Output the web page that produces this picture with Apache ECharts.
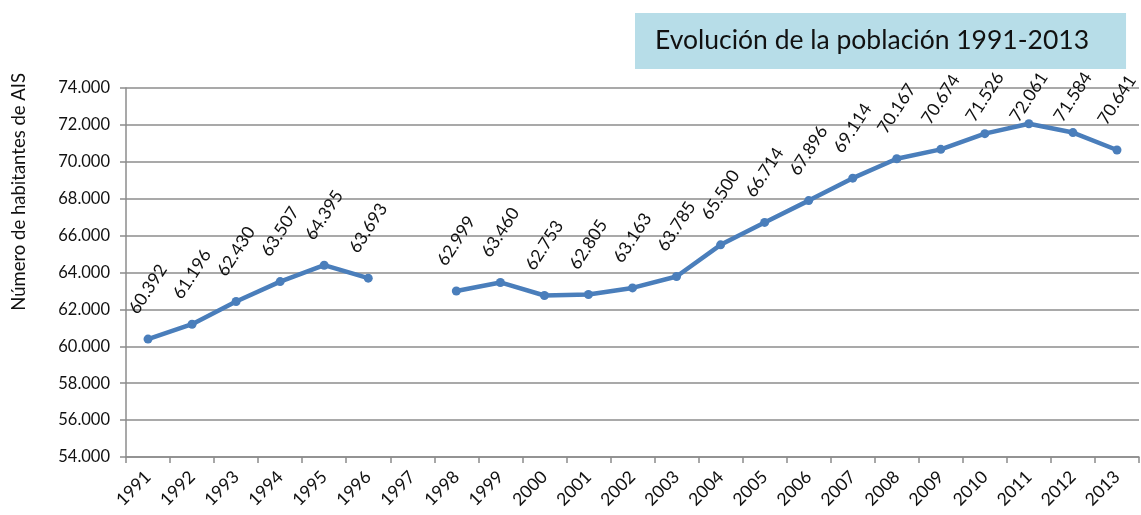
<!DOCTYPE html>
<html>
<head>
<meta charset="utf-8">
<script src="https://cdn.jsdelivr.net/npm/echarts@6/dist/echarts.min.js"></script>
<style>
  html, body { margin: 0; padding: 0; background: #fff; }
  #chart { width: 1141px; height: 515px; }
</style>
</head>
<body>
<div id="chart"></div>
<script>
const years = ['1991', '1992', '1993', '1994', '1995', '1996', '1997', '1998', '1999', '2000', '2001', '2002',
    '2003', '2004', '2005', '2006', '2007', '2008', '2009', '2010', '2011', '2012', '2013'];
// 1997 has no value: the line breaks there
const population = [60392, 61196, 62430, 63507, 64395, 63693, null, 62999, 63460, 62753, 62805, 63163,
    63785, 65500, 66714, 67896, 69114, 70167, 70674, 71526, 72061, 71584, 70641];

const titleText = 'Evolución de la población 1991-2013';
const yAxisName = 'Número de habitantes de AIS';

function fmt(v) {
    return String(v).replace(/\B(?=(\d{3})+(?!\d))/g, '.');
}

const elem = document.getElementById('chart');
const myChart = echarts.init(elem, null, {});

const font = 'Lato, "Open Sans", sans-serif';

myChart.setOption({
    animation: false,
    textStyle: { fontFamily: font },
    title: {
        text: titleText,
        left: 635,
        top: 13,
        padding: [14, 37, 15, 20],
        backgroundColor: '#b7dde8',
        textStyle: { fontSize: 26.5, fontWeight: 'normal', color: '#111', fontFamily: font }
    },
    graphic: [{
        type: 'text',
        left: 10,
        top: 73,
        rotation: Math.PI / 2,
        style: {
            text: yAxisName,
            fontSize: 18.5,
            fontFamily: font,
            fill: '#111'
        }
    }],
    grid: { left: 126, right: 2, top: 88, bottom: 58, containLabel: false, outerBoundsMode: 'none' },
    xAxis: {
        type: 'category',
        data: years,
        boundaryGap: true,
        axisLine: { lineStyle: { color: '#8c8c8c', width: 1.5 } },
        axisTick: { show: true, length: 6, lineStyle: { color: '#8c8c8c', width: 1.5 } },
        axisLabel: { rotate: 45, fontSize: 17.5, fontFamily: font, color: '#111', margin: 17, interval: 0 }
    },
    yAxis: {
        type: 'value',
        min: 54000,
        max: 74000,
        interval: 2000,
        axisLine: { show: true, lineStyle: { color: '#8c8c8c', width: 1.5 } },
        axisTick: { show: true, length: 6, lineStyle: { color: '#8c8c8c', width: 1.5 } },
        splitLine: { lineStyle: { color: '#8c8c8c', width: 1.5 } },
        axisLabel: { fontSize: 16.5, color: '#111', margin: 16, formatter: fmt }
    },
    series: [{
        type: 'line',
        data: population,
        connectNulls: false,
        symbol: 'circle',
        symbolSize: 9,
        lineStyle: { color: '#4a7ebb', width: 4.5 },
        itemStyle: { color: '#4a7ebb' },
        label: {
            show: true,
            position: 'top',
            distance: 44,
            rotate: 57,
            align: 'center',
            verticalAlign: 'middle',
            fontSize: 17.5,
            color: '#111',
            formatter: p => fmt(p.value)
        },
        // keep labels of the highest points inside the chart, below the title box
        labelLayout: function (params) {
            const cy = params.rect.y + params.rect.height / 2;
            return { y: Math.max(cy - 50, 97) };
        }
    }]
});

window.addEventListener('resize', function () {
    myChart.resize();
});
</script>
</body>
</html>
